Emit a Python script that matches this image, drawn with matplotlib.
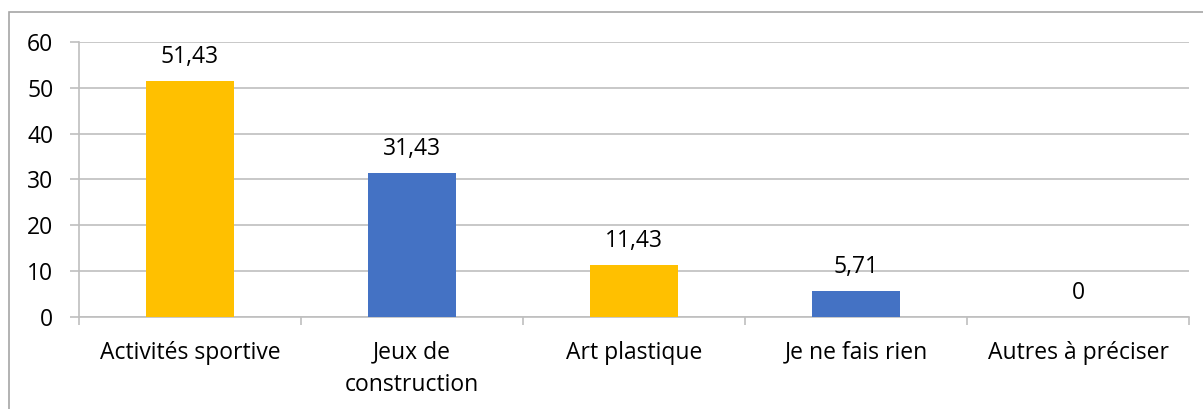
import matplotlib.pyplot as plt
from matplotlib.patches import Rectangle

# data
categories = ['Activités sportive', 'Jeux de\nconstruction', 'Art plastique',
              'Je ne fais rien', 'Autres à préciser']
values = [51.43, 31.43, 11.43, 5.71, 0]
labels = ['51,43', '31,43', '11,43', '5,71', '0']
colors = ['#FFC000', '#4472C4', '#FFC000', '#4472C4', '#FFC000']

plt.rcParams['font.family'] = ['Open Sans', 'DejaVu Sans']
fs = 16.5

fig = plt.figure(figsize=(12.03, 4.09), dpi=100)
W, H = 1203, 409
ax = fig.add_axes([79 / W, 1 - 317 / H, (1189 - 79) / W, (317 - 42) / H])

x = list(range(len(categories)))
ax.bar(x, values, width=0.4, color=colors, zorder=3)

for xi, v, lab in zip(x, values, labels):
    ax.annotate(lab, (xi, v), xytext=(0, 13), textcoords='offset points',
                ha='center', va='baseline', fontsize=fs, color='#000000')

ax.set_xlim(-0.5, 4.5)
ax.set_ylim(0, 60)
ax.set_yticks(range(0, 61, 10))
ax.grid(axis='y', color='#BFBFBF', linewidth=1.2, zorder=0)

for s in ['top', 'right']:
    ax.spines[s].set_visible(False)
ax.spines['left'].set_color('#BFBFBF')
ax.spines['bottom'].set_color('#BFBFBF')
ax.spines['left'].set_linewidth(1.2)
ax.spines['bottom'].set_linewidth(1.2)

# category labels centred, ticks at boundaries
ax.set_xticks(x)
ax.set_xticklabels(categories, fontsize=fs, linespacing=1.45, va='top')
ax.tick_params(axis='x', length=0, pad=17)
ax.set_xticks([i - 0.5 for i in range(len(categories) + 1)], minor=True)
ax.tick_params(axis='x', which='minor', length=6, color='#BFBFBF', width=1.2)
ax.tick_params(axis='y', length=6.5, color='#BFBFBF', width=1.2, labelsize=fs, pad=12)

# outer chart border (runs off the right and bottom edges)
fig.patches.append(Rectangle((9 / W, -0.05), 1.1, 1 - 12 / H + 0.05,
                             transform=fig.transFigure, fill=False,
                             edgecolor='#A6A6A6', linewidth=1.2))

fig.savefig('out.png', dpi=100)
